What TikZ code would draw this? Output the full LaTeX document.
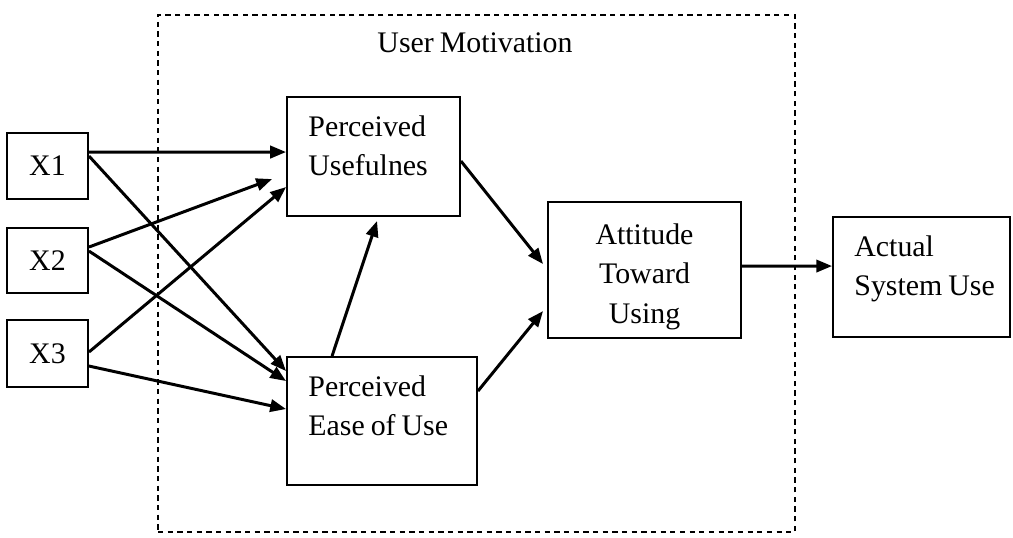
\documentclass[tikz,border=0pt]{standalone}
\usepackage{fontspec}
\setmainfont{Liberation Serif}[WordSpace=0.8]
\usetikzlibrary{arrows.meta,calc,positioning}

\begin{document}
\begin{tikzpicture}[x=0.02cm,y=-0.02cm,>={Triangle[length=9pt,width=7pt]}]
    \tikzset{
        b/.style={draw, line width=1.1pt, inner sep=0pt},
        t/.style={inner sep=0pt, font={\fontsize{17}{22.7}\selectfont}},
        a/.style={->, line width=1.7pt},
    }
    \useasboundingbox (0,0) rectangle (1013,537);

    % boxes
    \node[b, dash pattern=on 3pt off 2.5pt, minimum width=12.74cm, minimum height=10.34cm] (um) at (476.5,273.5) {};
    \node[b, t, minimum width=1.62cm, minimum height=1.32cm] (x1) at (47.5,166) {X1};
    \node[b, t, minimum width=1.62cm, minimum height=1.30cm] (x2) at (47.5,260.5) {X2};
    \node[b, t, minimum width=1.62cm, minimum height=1.34cm] (x3) at (47.5,353.5) {X3};
    \node[b, minimum width=3.46cm, minimum height=2.38cm] (pu) at (373.5,156.5) {};
    \node[b, minimum width=3.80cm, minimum height=2.56cm] (peu) at (382,421) {};
    \node[b, minimum width=3.86cm, minimum height=2.72cm] (atu) at (644.5,270) {};
    \node[b, minimum width=3.54cm, minimum height=2.40cm] (asu) at (921.5,277) {};

    % texts
    \node[t, anchor=base west] (um-t) at ($(um.north west)+(220,38)$) {User Motivation};
    \node[t, anchor=base west, align=flush left, text width=3.2cm] (pu-t) at ($(pu.north west)+(22,40)$) {Perceived\\Usefulnes};
    \node[t, anchor=base west, align=flush left, text width=3.6cm] (peu-t) at ($(peu.north west)+(22,40)$) {Perceived\\Ease of Use};
    \node[t, anchor=base, align=flush center, text width=3.6cm] (atu-t) at ($(atu.north)+(0,43)$) {Attitude\\Toward\\Using};
    \node[t, anchor=base west, align=flush left, text width=3.2cm] (asu-t) at ($(asu.north west)+(22,40)$) {Actual\\System Use};

    % arrows
    \draw[a] ($(x1.north east)+(0,20)$) -- ($(pu.north west)+(0,56)$);
    \draw[a] ($(x1.north east)+(0,24)$) -- ($(peu.north west)+(0,15)$);
    \draw[a] ($(x2.north east)+(0,20)$) -- ($(pu.north west)+(-14,83)$);
    \draw[a] ($(x2.north east)+(0,24)$) -- ($(peu.north west)+(0,25)$);
    \draw[a] ($(x3.north east)+(0,33)$) -- ($(pu.north west)+(0,91)$);
    \draw[a] ($(x3.north east)+(0,47)$) -- ($(peu.north west)+(0,53)$);
    \draw[a] ($(peu.north west)+(46,0)$) -- ($(pu.south west)+(91,4)$);
    \draw[a] ($(pu.north east)+(0,65)$) -- ($(atu.north west)+(-4,63)$);
    \draw[a] ($(peu.north east)+(0,35)$) -- ($(atu.north west)+(-4,110)$);
    \draw[a] ($(atu.north east)+(0,65)$) -- ($(asu.north west)+(0,50)$);
\end{tikzpicture}
\end{document}
